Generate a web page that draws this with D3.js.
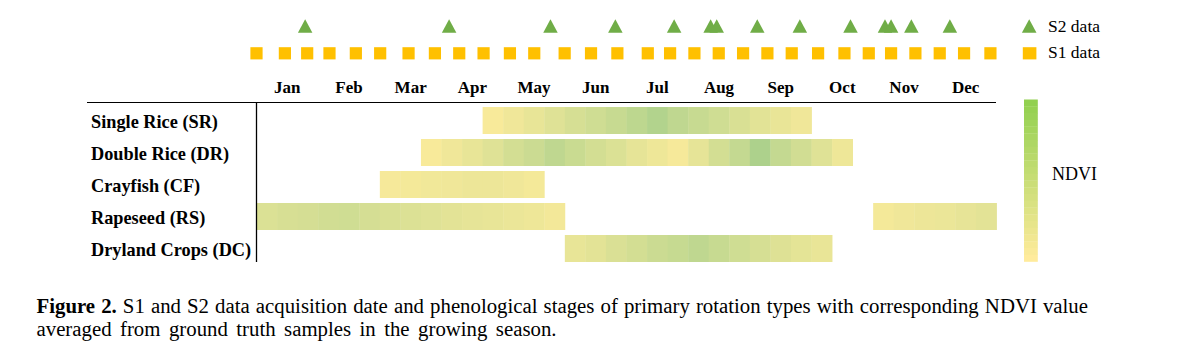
<!DOCTYPE html>
<html>
<head>
<meta charset="utf-8">
<script src="https://cdn.jsdelivr.net/npm/d3@7"></script>
<style>
  html, body { margin: 0; padding: 0; background: #fff; }
  svg { display: block; }
  text { font-family: "Liberation Serif", "Times New Roman", serif; fill: #000; }
</style>
</head>
<body>
<svg id="chart" width="1192" height="360"></svg>
<script>
// ---------------- data ----------------
const months = ["Jan","Feb","Mar","Apr","May","Jun","Jul","Aug","Sep","Oct","Nov","Dec"];
const rotations = ["Single Rice (SR)","Double Rice (DR)","Crayfish (CF)","Rapeseed (RS)","Dryland Crops (DC)"];

// acquisition dates, day of year
const s1Days = [0,14,25,36,49,61,75,88,100,112,125,137,152,165,178,193,204,216,228,240,252,264,277,290,302,313,325,337,349,362];
const s2Days = [24,95,145,177,206,224,227,247,268,293,310,313,323,342];

// relative NDVI per 10-day period (dekad index 0..35), starting dekad of each run
const ndviSR  = [0.00,0.10,0.20,0.30,0.42,0.50,0.60,0.72,0.85,0.70,0.60,0.50,0.38,0.27,0.18,0.10];
const startSR = 11;
const ndviDR  = [0.00,0.10,0.20,0.30,0.45,0.55,0.70,0.57,0.45,0.35,0.22,0.12,0.03,0.22,0.45,0.63,0.92,0.63,0.47,0.30,0.12];
const startDR = 8;
const ndviCF  = [0.02,0.05,0.08,0.10,0.13,0.13,0.10,0.05];
const startCF = 6;
const ndviRS1 = [0.35,0.40,0.43,0.47,0.50,0.43,0.38,0.34,0.30,0.26,0.22,0.19,0.16,0.12,0.06];
const startRS1 = 0;
const ndviRS2 = [0.05,0.10,0.13,0.16,0.21,0.26];
const startRS2 = 30;
const ndviDC  = [0.19,0.26,0.36,0.45,0.55,0.61,0.70,0.60,0.50,0.41,0.32,0.24,0.18];
const startDC = 15;

const legendItems = ["S2 data","S1 data"];
const legendTitle = "NDVI";
const captionBold = "Figure 2.";
const captionLine1 = " S1 and S2 data acquisition date and phenological stages of primary rotation types with corresponding NDVI value";
const captionLine2 = "averaged from ground truth samples in the growing season.";

// ---------------- build ----------------
const runs = [
  {row: rotations[0], start: startSR,  vals: ndviSR},
  {row: rotations[1], start: startDR,  vals: ndviDR},
  {row: rotations[2], start: startCF,  vals: ndviCF},
  {row: rotations[3], start: startRS1, vals: ndviRS1},
  {row: rotations[3], start: startRS2, vals: ndviRS2},
  {row: rotations[4], start: startDC,  vals: ndviDC}
];
const cells = runs.flatMap(r => r.vals.map((v, i) => ({row: r.row, dekad: r.start + i, v})));

const svg = d3.select("#chart");
const X0 = 256.5, X1 = 996.5;

const xDay = d3.scaleLinear().domain([0, 365]).range([X0, X1]);
const xDek = d3.scaleBand().domain(d3.range(36)).range([X0, X1]);
const xMonth = d3.scaleBand().domain(months).range([X0, X1]);
const y = d3.scaleBand().domain(rotations).range([104.5, 264.5]).paddingInner(5/32).paddingOuter(2.5/32);
const color = d3.scaleLinear().domain([0, 1]).range(["#f8ea9a", "#a6cf8b"]).interpolate(d3.interpolateRgb);

// cells
svg.append("g").selectAll("rect").data(cells).join("rect")
  .attr("x", d => xDek(d.dekad))
  .attr("y", d => y(d.row))
  .attr("width", xDek.bandwidth() + 0.4)
  .attr("height", y.bandwidth())
  .attr("fill", d => color(d.v));

// axes lines
svg.append("line").attr("x1", 87).attr("x2", 996).attr("y1", 102.5).attr("y2", 102.5)
  .attr("stroke", "#000").attr("stroke-width", 1.2);
svg.append("line").attr("x1", 256.5).attr("x2", 256.5).attr("y1", 102).attr("y2", 262)
  .attr("stroke", "#000").attr("stroke-width", 1.3);

// month labels
svg.append("g").selectAll("text").data(months).join("text")
  .attr("x", d => xMonth(d) + xMonth.bandwidth() / 2)
  .attr("y", 93)
  .attr("text-anchor", "middle")
  .attr("font-weight", "bold")
  .attr("font-size", 17)
  .text(d => d);

// row labels
svg.append("g").selectAll("text").data(rotations).join("text")
  .attr("x", 91)
  .attr("y", d => y(d) + y.bandwidth() / 2 + 7)
  .attr("font-weight", "bold")
  .attr("font-size", 18.3)
  .text(d => d);

// markers
const triW = 14.5, triH = 13.4, triTop = 19.3;
const triPath = cx => `M${cx},${triTop}L${cx + triW/2},${triTop + triH}L${cx - triW/2},${triTop + triH}Z`;
svg.append("g").selectAll("path").data(s2Days).join("path")
  .attr("d", d => triPath(xDay(d)))
  .attr("fill", "#70ad47");

const sq = 12.2, sqTop = 47.2;
svg.append("g").selectAll("rect").data(s1Days).join("rect")
  .attr("x", d => xDay(d) - sq / 2)
  .attr("y", sqTop)
  .attr("width", sq).attr("height", sq)
  .attr("fill", "#ffc000");

// legend
const lg = svg.append("g");
lg.append("path").attr("d", `M1029.2,19.3L1036.5,32.7L1021.9,32.7Z`).attr("fill", "#70ad47");
lg.append("rect").attr("x", 1022.8).attr("y", 47.2).attr("width", 13.6).attr("height", 12.2).attr("fill", "#ffc000");
lg.selectAll("text.li").data(legendItems).join("text").attr("class", "li")
  .attr("x", 1048)
  .attr("y", (d, i) => 31.8 + i * 26.6)
  .attr("font-size", 17.5)
  .text(d => d);

// colour bar
const nSteps = 24;
const barTop = 99.5, barBot = 261.5;
const cbar = d3.scaleLinear().domain([0, nSteps - 1]).range(["#92d050", "#ffeb9c"]).interpolate(d3.interpolateRgb);
const yStep = d3.scaleBand().domain(d3.range(nSteps)).range([barTop, barBot]);
lg.selectAll("rect.cb").data(d3.range(nSteps)).join("rect").attr("class", "cb")
  .attr("x", 1024).attr("width", 13.8)
  .attr("y", d => yStep(d)).attr("height", yStep.bandwidth() + 0.3)
  .attr("fill", d => cbar(d));
lg.append("text").attr("x", 1052).attr("y", 180).attr("font-size", 18).text(legendTitle);

// caption
const cap1 = svg.append("text").attr("x", 36.5).attr("y", 313).attr("font-size", 20.8);
cap1.append("tspan").attr("font-weight", "bold").text(captionBold);
cap1.append("tspan").text(captionLine1);
const cap2 = svg.append("text").attr("x", 36.5).attr("y", 336).attr("font-size", 20.8).text(captionLine2);

function fitWords(sel, target) {
  const node = sel.node();
  const w = node.getComputedTextLength();
  const spaces = (node.textContent.match(/ /g) || []).length;
  if (spaces > 0) sel.attr("word-spacing", (target - w) / spaces);
}
fitWords(cap1, 1051.5);
fitWords(cap2, 520);
</script>
</body>
</html>
